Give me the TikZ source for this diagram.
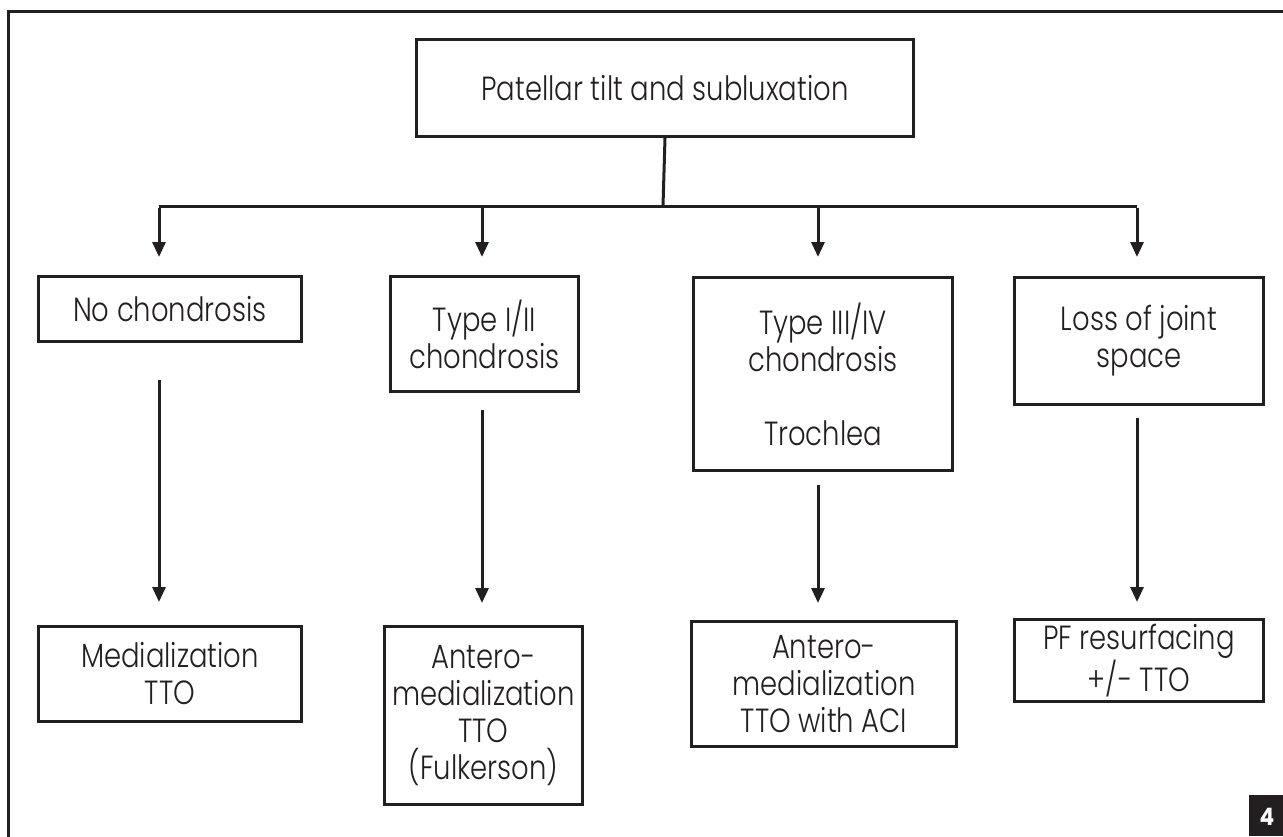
\documentclass[tikz,border=0pt]{standalone}
\usepackage{fontspec}
\IfFontExistsTF{Poppins Light}
  {\setmainfont{Poppins Light}[FakeStretch=0.82]}
  {\setmainfont{Poppins}[FakeStretch=0.82]}
\newfontfamily\numfont{Poppins}[FakeStretch=0.9]
\usetikzlibrary{arrows.meta}
\definecolor{ink}{HTML}{231F20}
\tikzset{
  box/.style={draw=ink, line width=3pt, align=center, inner sep=0pt, anchor=north west,
    text=ink, font=\fontsize{33.5}{37}\selectfont},
  conn/.style={draw=ink, line width=3pt},
  arr/.style={draw=ink, line width=3pt, -{Triangle[length=15pt,width=13pt]}},
}
\newcommand{\bx}[6]{% name, x1, y1, x2, y2, text
  \node[box, minimum width={#4-#2}, minimum height={#5-#3}] (#1) at (#2,#3) {#6};}
\begin{document}
\begin{tikzpicture}[x=1pt,y=-1pt]
\useasboundingbox (0,0) rectangle (1283,836);
% frame
\draw[ink, line width=3pt] (8,837) -- (8,11) -- (1284,11);
% figure number
\fill[ink] (1249,795) rectangle (1283,836);
\node[text=white, font=\numfont\bfseries\fontsize{24}{24}\selectfont] (num) at (1267,817) {4};
% boxes
\bx{top}{415}{38}{912}{135}{Patellar tilt and subluxation}
\bx{a1}{37}{275}{300}{340}{No chondrosis}
\bx{b1}{389}{275}{577}{390}{Type I/II\\chondrosis}
\bx{c1}{692}{276}{951}{469}{Type III/IV\\chondrosis\\[37pt]Trochlea}
\bx{d1}{1013}{276}{1262}{403}{Loss of joint\\space}
\bx{a2}{37}{625}{300}{720}{Medialization\\TTO}
\bx{b2}{383}{625}{581}{803}{Antero-\\medialization\\TTO\\(Fulkerson)}
\bx{c2}{690}{620}{955}{745}{Antero-\\medialization\\TTO with ACI}
\bx{d2}{1013}{618}{1262}{700}{PF resurfacing\\+/- TTO}
% bus
\coordinate (hub) at (663,206);
\coordinate (ba) at (159,206);
\coordinate (bb) at (482,206);
\coordinate (bc) at (818,206);
\coordinate (bd) at (1137,206);
\draw[conn] (top.south) -- (hub);
\draw[conn] (ba) -- (bd);
\coordinate (ta) at (159,257);
\coordinate (tb) at (482,257);
\coordinate (tc) at (818,257);
\coordinate (td) at (1137,257);
\draw[arr] ([yshift=-1.5pt]ba) -- (ta);
\draw[arr] (bb) -- (tb);
\draw[arr] (bc) -- (tc);
\draw[arr] ([yshift=-1.5pt]bd) -- (td);
% lower connectors
\coordinate (sa) at (159,380);
\coordinate (sb) at (482,410);
\coordinate (sc) at (818,485);
\coordinate (sd) at (1137,418);
\coordinate (ea) at (159,602);
\coordinate (eb) at (482,603);
\coordinate (ec) at (818,603);
\coordinate (ed) at (1137,602);
\draw[arr] (sa) -- (ea);
\draw[arr] (sb) -- (eb);
\draw[arr] (sc) -- (ec);
\draw[arr] (sd) -- (ed);
\end{tikzpicture}
\end{document}
